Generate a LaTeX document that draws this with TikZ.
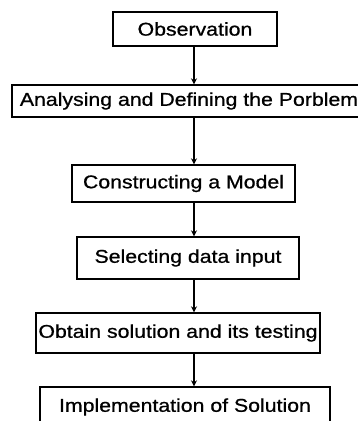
\documentclass[tikz,border=0pt]{standalone}
\usepackage{fontspec}
\setmainfont[FakeStretch=1.15,FakeBold=0.8]{Liberation Sans}
\usetikzlibrary{arrows.meta}
\tikzset{
  stepbox/.style={draw,line width=1.4pt,inner sep=0pt,align=center,
    font=\fontsize{18.5}{22}\selectfont},
  flow/.style={line width=2.2pt,-{Stealth[length=6pt,width=6pt]}}
}
\begin{document}
\begin{tikzpicture}[x=1pt,y=-1pt]
\useasboundingbox (0,0) rectangle (358,421);
% boxes
\node[stepbox,minimum width=164pt,minimum height=34pt] (obs) at (195,29) {Observation};
\node[stepbox,minimum width=354pt,minimum height=32pt] (ana) at (189,101) {Analysing and Defining the Porblem};
\node[stepbox,minimum width=223pt,minimum height=37pt] (con) at (183.5,183.5) {Constructing a Model};
\node[stepbox,minimum width=222pt,minimum height=42pt] (sel) at (188,258) {Selecting data input};
\node[stepbox,minimum width=284pt,minimum height=40pt] (obt) at (178,333) {Obtain solution and its testing};
\node[stepbox,minimum width=290pt,minimum height=40pt] (imp) at (185,407) {Implementation of Solution};
% arrows
\coordinate (spine) at (194,0);
\draw[flow] (obs.south -| spine) -- (ana.north -| spine);
\draw[flow] (ana.south -| spine) -- (con.north -| spine);
\draw[flow] (con.south -| spine) -- (sel.north -| spine);
\draw[flow] (sel.south -| spine) -- (obt.north -| spine);
\draw[flow] (obt.south -| spine) -- (imp.north -| spine);
\end{tikzpicture}
\end{document}
